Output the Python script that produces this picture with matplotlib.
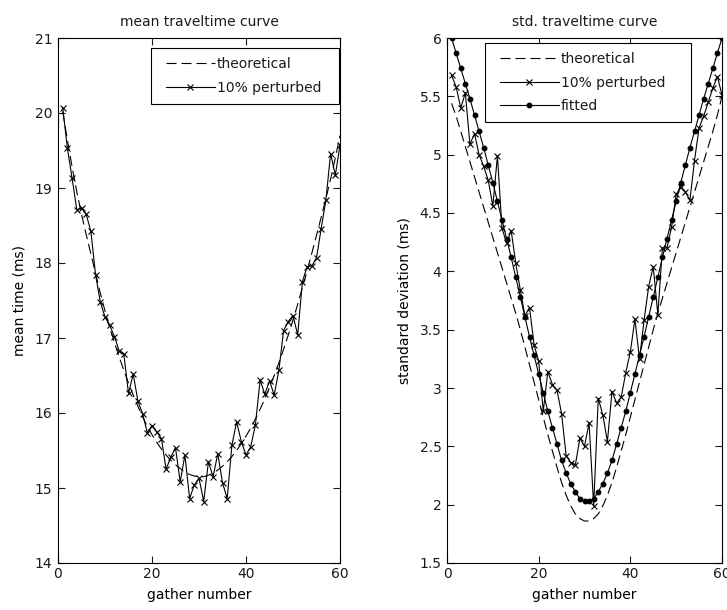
import matplotlib
matplotlib.use("Agg")
import matplotlib.pyplot as plt
from matplotlib.legend_handler import HandlerLine2D
from matplotlib.ticker import FuncFormatter, MultipleLocator

# gather index along the line
gathers = list(range(1, 61))

# mean traveltime (ms)
mean_theoretical = [
    20.02, 19.64, 19.28, 18.95, 18.65, 18.38, 18.12, 17.86, 17.60, 17.36,
    17.14, 16.94, 16.75, 16.57, 16.40, 16.24, 16.09, 15.95, 15.82, 15.71,
    15.61, 15.52, 15.44, 15.37, 15.31, 15.26, 15.21, 15.18, 15.16, 15.15,
    15.15, 15.17, 15.20, 15.24, 15.29, 15.35, 15.42, 15.50, 15.59, 15.69,
    15.80, 15.92, 16.05, 16.19, 16.34, 16.50, 16.67, 16.85, 17.04, 17.24,
    17.45, 17.67, 17.90, 18.13, 18.37, 18.61, 18.86, 19.12, 19.40, 19.70,
]
mean_perturbed = [
    20.07, 19.53, 19.13, 18.71, 18.73, 18.65, 18.42, 17.84, 17.48, 17.28,
    17.17, 17.02, 16.83, 16.79, 16.26, 16.52, 16.16, 15.99, 15.74, 15.83,
    15.75, 15.66, 15.25, 15.41, 15.54, 15.08, 15.44, 14.86, 15.04, 15.13,
    14.82, 15.35, 15.15, 15.46, 15.07, 14.86, 15.57, 15.88, 15.62, 15.44,
    15.55, 15.84, 16.44, 16.25, 16.43, 16.24, 16.57, 17.10, 17.22, 17.30,
    17.04, 17.75, 17.95, 17.96, 18.07, 18.46, 18.84, 19.46, 19.17, 19.57,
]

# standard deviation of traveltime (ms)
std_theoretical = [
    5.44, 5.33, 5.20, 5.07, 4.94, 4.81, 4.68, 4.55, 4.42, 4.29,
    4.16, 4.03, 3.90, 3.77, 3.64, 3.50, 3.35, 3.20, 3.05, 2.90,
    2.75, 2.60, 2.46, 2.32, 2.19, 2.08, 1.99, 1.92, 1.88, 1.86,
    1.86, 1.88, 1.92, 1.99, 2.08, 2.19, 2.32, 2.46, 2.60, 2.75,
    2.90, 3.05, 3.20, 3.35, 3.50, 3.64, 3.77, 3.90, 4.03, 4.16,
    4.29, 4.42, 4.55, 4.68, 4.81, 4.94, 5.07, 5.20, 5.34, 5.50,
]
std_perturbed = [
    5.68, 5.58, 5.40, 5.53, 5.09, 5.18, 5.00, 4.90, 4.78, 4.56,
    4.99, 4.37, 4.24, 4.35, 4.07, 3.84, 3.62, 3.69, 3.37, 3.23,
    2.80, 3.14, 3.03, 2.98, 2.78, 2.42, 2.36, 2.34, 2.57, 2.50,
    2.70, 1.99, 2.91, 2.77, 2.54, 2.97, 2.87, 2.92, 3.13, 3.31,
    3.59, 3.25, 3.58, 3.87, 4.04, 3.63, 4.20, 4.20, 4.38, 4.66,
    4.72, 4.68, 4.61, 4.95, 5.23, 5.33, 5.45, 5.57, 5.67, 5.51,
]
std_fitted = [
    6.00, 5.87, 5.74, 5.61, 5.48, 5.34, 5.20, 5.06, 4.91, 4.76,
    4.60, 4.44, 4.28, 4.12, 3.95, 3.78, 3.61, 3.44, 3.28, 3.12,
    2.96, 2.80, 2.66, 2.52, 2.38, 2.27, 2.18, 2.11, 2.05, 2.03,
    2.03, 2.05, 2.11, 2.18, 2.27, 2.38, 2.52, 2.66, 2.80, 2.96,
    3.12, 3.28, 3.44, 3.61, 3.78, 3.95, 4.12, 4.28, 4.44, 4.60,
    4.76, 4.91, 5.06, 5.20, 5.34, 5.48, 5.61, 5.74, 5.87, 6.00,
]

plt.rcParams.update({
    "font.family": ["DejaVu Sans"],
    "font.size": 10,
    "axes.linewidth": 0.8,
    "xtick.direction": "in",
    "ytick.direction": "in",
    "xtick.top": True,
    "ytick.right": True,
    "xtick.major.size": 5,
    "ytick.major.size": 5,
    "xtick.major.width": 0.8,
    "ytick.major.width": 0.8,
    "xtick.major.pad": 3,
    "ytick.major.pad": 4,
    "text.color": "#1a1a1a",
    "xtick.color": "#1a1a1a",
    "ytick.color": "#1a1a1a",
})


class IndentedLine(HandlerLine2D):
    """Legend line sample that starts a little in from the left edge."""

    def __init__(self, lead, **kw):
        super().__init__(**kw)
        self.lead = lead

    def get_xdata(self, legend, xdescent, ydescent, width, height, fontsize):
        x0 = -xdescent + self.lead * fontsize
        x1 = -xdescent + width
        return [x0, x1], [0.5 * (x0 + x1)]


W, H = 727, 610
fig = plt.figure(figsize=(W / 100, H / 100), dpi=100, facecolor="white")
ax1 = fig.add_axes([58 / W, 1 - 563 / H, 282 / W, 525 / H])
ax2 = fig.add_axes([447 / W, 1 - 563 / H, 275 / W, 525 / H])

fmt = FuncFormatter(lambda v, _: f"{v:g}")
dash = (9, 4.5)
lw = 0.8
legend_style = dict(fancybox=False, framealpha=1, edgecolor="k",
                    handletextpad=0.15, borderpad=0.62, borderaxespad=0)

# left panel: mean traveltime
ax1.plot(gathers, mean_theoretical, color="k", lw=lw, linestyle="--",
         dashes=dash, label="theoretical")
ax1.plot(gathers, mean_perturbed, color="k", lw=lw, marker="x",
         markersize=5, markeredgewidth=0.8, label="10% perturbed  ")
ax1.set_xlim(0, 60)
ax1.set_ylim(14, 21)
ax1.xaxis.set_major_locator(MultipleLocator(20))
ax1.yaxis.set_major_locator(MultipleLocator(1))
ax1.xaxis.set_major_formatter(fmt)
ax1.yaxis.set_major_formatter(fmt)
ax1.set_title("mean traveltime curve", fontsize=10, pad=9)
ax1.set_xlabel("gather number", labelpad=5)
ax1.set_ylabel("mean time (ms)", labelpad=6)
h1 = IndentedLine(0.43)
leg1 = ax1.legend(loc="upper left", bbox_to_anchor=(0.330, 0.981),
                  handlelength=3.96, labelspacing=0.75,
                  handler_map={l: h1 for l in ax1.get_lines()},
                  **legend_style)
leg1.get_frame().set_linewidth(0.8)

# right panel: standard deviation
ax2.plot(gathers, std_theoretical, color="k", lw=lw, linestyle="--",
         dashes=dash, label="theoretical")
ax2.plot(gathers, std_perturbed, color="k", lw=lw, marker="x",
         markersize=5, markeredgewidth=0.8, label="10% perturbed    ")
ax2.plot(gathers, std_fitted, color="k", lw=lw, marker="o",
         markersize=3.2, label="fitted")
ax2.set_xlim(0, 60)
ax2.set_ylim(1.5, 6)
ax2.xaxis.set_major_locator(MultipleLocator(20))
ax2.yaxis.set_major_locator(MultipleLocator(0.5))
ax2.xaxis.set_major_formatter(fmt)
ax2.yaxis.set_major_formatter(fmt)
ax2.set_title("std. traveltime curve", fontsize=10, pad=9)
ax2.set_xlabel("gather number", labelpad=5)
ax2.set_ylabel("standard deviation (ms)", labelpad=6)
h2 = IndentedLine(0.43)
leg2 = ax2.legend(loc="upper left", bbox_to_anchor=(0.138, 0.99),
                  handlelength=4.68, labelspacing=0.7,
                  handler_map={l: h2 for l in ax2.get_lines()},
                  **legend_style)
leg2.get_frame().set_linewidth(0.8)

fig.savefig("out.png", dpi=100, facecolor="white")
